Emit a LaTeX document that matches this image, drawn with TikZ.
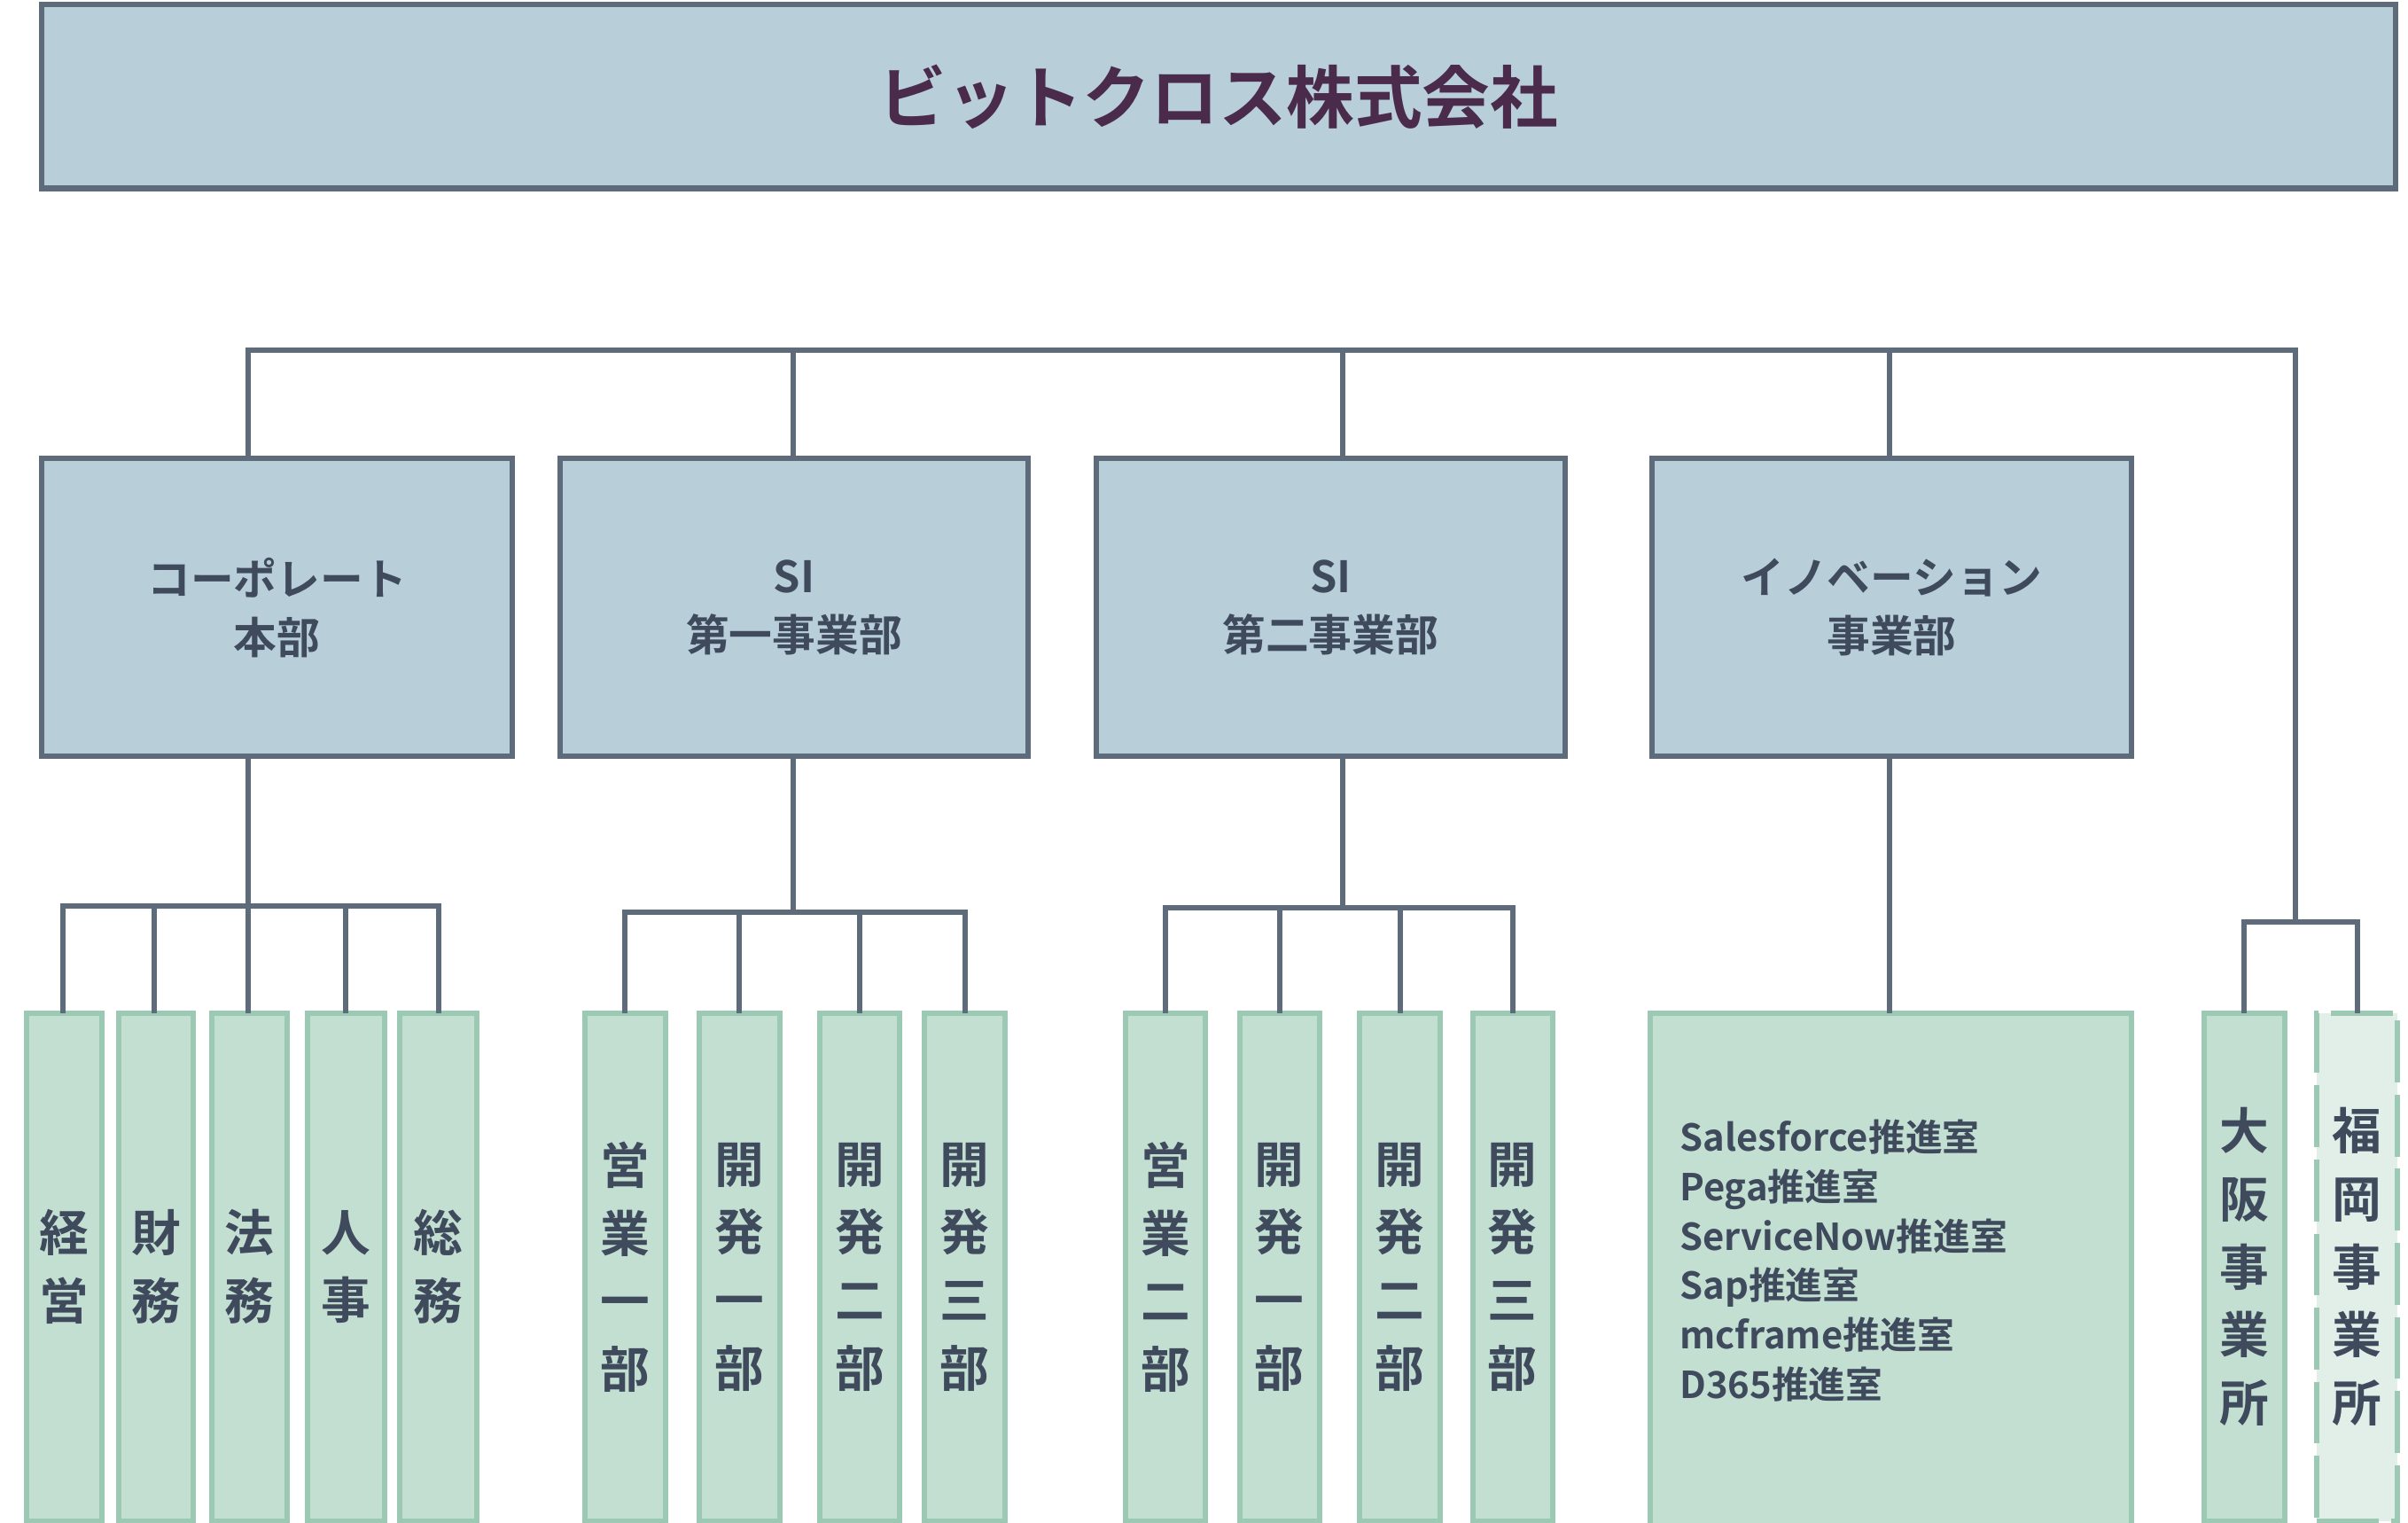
\documentclass[tikz,border=0pt]{standalone}
\usepackage{fontspec}
\setmainfont{Noto Sans CJK JP}[BoldFont={Noto Sans CJK JP Bold}]
\definecolor{hd}{HTML}{B8CFDA}
\definecolor{hb}{HTML}{5E6B7A}
\definecolor{lf}{HTML}{C3DFD2}
\definecolor{lb}{HTML}{9CC9B4}
\definecolor{lf2}{HTML}{E2EFE9}
\definecolor{tt}{HTML}{4A2B4C}
\definecolor{tx}{HTML}{3F4B5C}
\begin{document}
\begin{tikzpicture}[x=1pt,y=-1pt,
 head/.style={draw=hb,fill=hd,line width=3.5pt,text=tx,font=\fontsize{28}{38}\selectfont\bfseries,align=center,inner sep=0},
 leaf/.style={draw=lb,fill=lf,line width=3.5pt,text=tx,font=\fontsize{32}{44}\selectfont\bfseries,align=center,inner sep=0},
 con/.style={draw=hb,line width=3.5pt}]
\useasboundingbox (0,0) rectangle (1560,986);
\newcommand{\bx}[5]{\node[#1,minimum width=#4-#2,minimum height=#5-#3] at ({(#2+#4)/2},{(#3+#5)/2})}
\bx{head}{27}{3}{1552}{122} (T) {\fontsize{44}{50}\selectfont\color{tt}ビットクロス株式会社};
\bx{head}{27}{297}{332}{490} (A) {コーポレート\\本部};
\bx{head}{363}{297}{666}{490} (B) {SI\\第一事業部};
\bx{head}{710}{297}{1014}{490} (C) {SI\\第二事業部};
\bx{head}{1070}{297}{1381}{490} (D) {イノベーション\\事業部};
% top bus
\coordinate (bl) at (161,227); \coordinate (br) at (1487,227);
\draw[con] (161,297) -- (bl) -- (br) -- (1487,597) coordinate (eb);
\draw[con] (514,297) -- (514,227);
\draw[con] (870,297) -- (870,227);
\draw[con] (1224,227) -- (1224,297);
% leaves A
\foreach \n/\xa/\xb/\t in {a1/17/66/経\\営,a2/77/125/財\\務,a3/137/186/法\\務,a4/199/249/人\\事,a5/259/309/総\\務}{
 \bx{leaf}{\xa}{656}{\xb}{985} (\n) {\t};}
\draw[con] (161,490) -- (161,587);
\draw[con] (41,656) -- (41,587) -- (284,587) -- (284,656);
\foreach \x in {100,161,224} \draw[con] (\x,587) -- (\x,656);
% leaves B
\foreach \n/\xa/\xb/\t in {b1/379/431/営\\業\\一\\部,b2/453/505/開\\発\\一\\部,b3/531/583/開\\発\\二\\部,b4/599/651/開\\発\\三\\部}{
 \bx{leaf}{\xa}{656}{\xb}{985} (\n) {\t};}
\draw[con] (514,490) -- (514,591);
\draw[con] (405,656) -- (405,591) -- (625,591) -- (625,656);
\foreach \x in {479,557} \draw[con] (\x,591) -- (\x,656);
% leaves C
\foreach \n/\xa/\xb/\t in {c1/729/781/営\\業\\二\\部,c2/803/855/開\\発\\一\\部,c3/881/933/開\\発\\二\\部,c4/954/1006/開\\発\\三\\部}{
 \bx{leaf}{\xa}{656}{\xb}{985} (\n) {\t};}
\draw[con] (870,490) -- (870,588);
\draw[con] (755,656) -- (755,588) -- (980,588) -- (980,656);
\foreach \x in {829,907} \draw[con] (\x,588) -- (\x,656);
% D
\bx{leaf}{1069}{656}{1381}{988} (d1) {};
\node[anchor=north west,text=tx,font=\fontsize{24}{32}\selectfont\bfseries,align=left,inner sep=0] (dt) at (1088,725)
 {Salesforce推進室\\Pega推進室\\ServiceNow推進室\\Sap推進室\\mcframe推進室\\D365推進室};
\draw[con] (1224,490) -- (1224,656);
% E
\bx{leaf}{1428}{656}{1480}{985} (e1) {大\\阪\\事\\業\\所};
\bx{leaf,fill=lf2,dash pattern=on 40pt off 8pt}{1501}{656}{1553}{985} (e2) {福\\岡\\事\\業\\所};
\draw[con] (1454,656) -- (1454,597) -- (1527,597) -- (1527,656);
\end{tikzpicture}
\end{document}
